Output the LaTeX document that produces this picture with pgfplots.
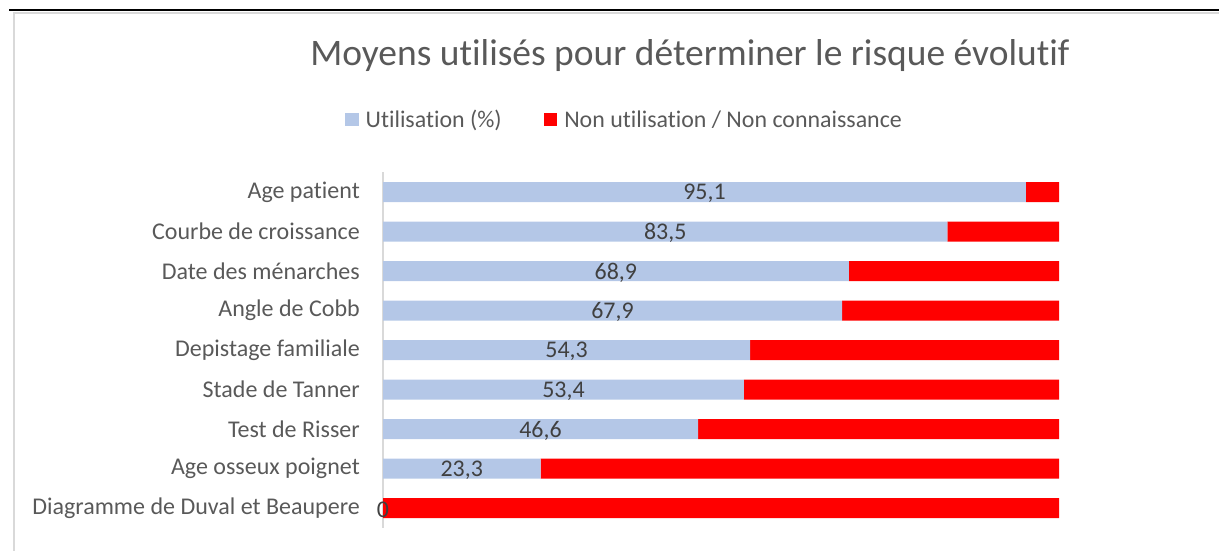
\documentclass[border=0pt]{standalone}
\usepackage{pgfplots}
\pgfplotsset{compat=1.18}
\usepackage{pgfplotstable}
\usepackage{fontspec}
\setmainfont{Carlito}[Ligatures={NoCommon,NoContextual}]
\definecolor{bblue}{HTML}{B4C7E7}
\definecolor{txt}{HTML}{595959}
\definecolor{lbl}{HTML}{404040}
\definecolor{framec}{HTML}{D9D9D9}
\pgfplotstableread{
idx u n
8 95.1 4.9
7 83.5 16.5
6 68.9 31.1
5 67.9 32.1
4 54.3 45.7
3 53.4 46.6
2 46.6 53.4
1 23.3 76.7
0 0 100
}\data
\begin{document}
\begin{tikzpicture}
\path[use as bounding box] (0bp,0bp) rectangle (1219bp,551bp);
\draw[framec, line width=1.5bp] (14.2bp,0bp) -- (14.2bp,538.2bp) -- (1219bp,538.2bp);
\draw[black, line width=2.4bp] (9bp,541bp) -- (1219bp,541bp);
\begin{axis}[
  at={(383bp,23.25bp)}, anchor=south west, scale only axis,
  width=676bp, height=355.5bp,
  xbar stacked, bar width=20bp,
  xmin=0, xmax=100, ymin=-0.5, ymax=8.5,
  hide x axis,
  axis y line*=left,
  y axis line style={draw=framec, line width=1.2bp},
  ytick={0,...,8},
  yticklabels={Diagramme de Duval et Beaupere, Age osseux poignet, Test de Risser, Stade de Tanner, Depistage familiale, Angle de Cobb, Date des ménarches, Courbe de croissance, Age patient},
  ytick style={draw=none},
  yticklabel style={font=\fontsize{24.1}{29}\selectfont, text=txt, anchor=east, inner sep=0pt, xshift=-23bp},
  title={Moyens utilisés pour déterminer le risque évolutif},
  every axis title/.style={at={(axis description cs:0.454,1.3017)}, anchor=base, font=\fontsize{37.6}{44}\selectfont, text=txt, inner sep=0pt},
  legend image code/.code={\fill[#1] (0bp,-6.5bp) rectangle (13.5bp,6.5bp);},
  legend style={draw=none, fill=none, at={(axis description cs:-0.0562,1.148)}, anchor=west,
    legend columns=2, font=\fontsize{24}{29}\selectfont, text=txt, inner sep=0pt,
    nodes={inner sep=0pt},
    /tikz/every odd column/.append style={column sep=7bp},
    /tikz/every even column/.append style={column sep=42bp}},
]
\addplot[fill=bblue, draw=none] table[x=u, y=idx] {\data};
\addplot[fill=red, draw=none] table[x=n, y=idx] {\data};
\legend{Utilisation (\%), Non utilisation / Non connaissance}
\end{axis}
\begin{axis}[
  at={(383bp,23.25bp)}, anchor=south west, scale only axis,
  width=676bp, height=355.5bp,
  xmin=0, xmax=100, ymin=-0.5, ymax=8.5,
  hide axis,
  nodes near coords,
  nodes near coords style={font=\fontsize{24}{29}\selectfont, text=lbl, anchor=center, inner sep=0pt, yshift=-1.5bp},
  /pgf/number format/.cd, use comma, fixed, precision=1, assume math mode=true,
]
\addplot[draw=none, mark=none, nodes near coords, point meta=\thisrow{u}] table[x expr=\thisrow{u}/2, y=idx] {\data};
\end{axis}
\end{tikzpicture}
\end{document}
